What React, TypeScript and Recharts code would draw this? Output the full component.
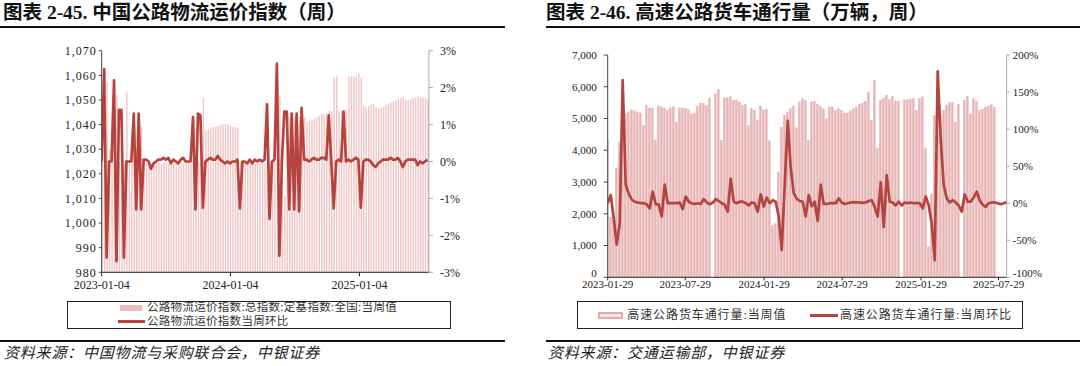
import React from 'react';
import { ComposedChart, Bar, Line, XAxis, YAxis } from 'recharts';

// ---------- Left chart: 中国公路物流运价指数（周） ----------
const leftIndex = [
  1026, 1063, 1057, 1030, 1025, 1024, 1052, 1025, 1026, 1024,
  1053, 1025, 1024, 1038, 1025, 1024, 1039, 1024.5, 1024.5, 1024,
  1024.5, 1024, 1024.5, 1024.5, 1024, 1024.5, 1024.5, 1024, 1024.5, 1024.5,
  1024, 1024.5, 1024.5, 1024, 1024.5, 1024.5, 1024, 1025, 1025, 1025,
  1025, 1051, 1037.5, 1038, 1038.5, 1039, 1039, 1039.5, 1040, 1040.3,
  1040, 1040, 1039.5, 1039, 1039, 1038.5, 1025, 1024.5, 1024.5, 1024,
  1024.5, 1024.5, 1024, 1024.5, 1024.5, 1024.5, 1024.5, 1025, 1025, 1025,
  1025, 1025, 1052, 1025, 1011, 1043, 1043, 1043, 1043, 1043,
  1043, 1043, 1043, 1041, 1041.5, 1042, 1042.5, 1043, 1043.5, 1044.5,
  1044, 1044.5, 1045.5, 1045.5, 1059, 1059.5, 1045.5, 1045.5, 1045, 1046,
  1059.5, 1059.5, 1059.5, 1059.5, 1060.5, 1059, 1047.5, 1047, 1047.5, 1048,
  1048.5, 1047, 1046.5, 1047, 1047, 1048, 1048.5, 1049, 1049.5, 1050,
  1050.5, 1051, 1051, 1050, 1050, 1050.5, 1051, 1051, 1051.5, 1051,
  1051, 1050.5, 1050,
];

const leftWoW = [
  0, 2.5, -2.6, 0, 0, 2.2, -2.7, 1.4, 1.4, -2.6,
  0, 0, 0, 1.3, -1.3, 1.3, -1.3, 0.05, 0.05, 0,
  -0.2, -0.05, 0, 0.05, 0.05, 0.1, 0.05, 0.1, -0.05, 0.05,
  0, -0.05, 0.05, 0.1, 0, 0, 0, 1.2, -1.3, 1.3,
  1.25, -1.25, 0, 0.05, 0.1, 0.05, 0.05, 0.15, 0.05, 0,
  -0.05, 0, -0.05, 0, 0, 0.05, -1.27, 0, 0, -0.05,
  0.05, -0.05, 0.05, 0, 0.05, 0, 0.05, 1.55, -1.55, 0,
  0.05, 2.65, -2.55, 0, 1.35, 1.35, -1.3, 1.3, -1.3, 1.3,
  -1.35, 1.45, 0.05, 0.05, 0, 0.05, 0.1, 0.05, 0.05, 0.1,
  0.1, 0.05, 1.25, 0, -1.27, 0, 0.05, 0, 1.35, 0,
  0.05, 0, 0.05, 0.1, 0.05, -1.25, 0, 0.05, 0.05, 0,
  -0.1, -0.15, -0.05, 0, 0.05, 0.05, 0.05, 0.1, 0.05, 0.05,
  0.1, 0, -0.15, 0, 0.05, 0.05, 0.05, 0.05, -0.1, 0,
  -0.05, 0, 0.05,
];

const leftTickDays = [0, 365, 731];
const leftTickLabels = ['2023-01-04', '2024-01-04', '2025-01-04'];
const leftIndexTicks = [980, 990, 1000, 1010, 1020, 1030, 1040, 1050, 1060, 1070];
const leftPctTicks = [-3, -2, -1, 0, 1, 2, 3];

// ---------- Right chart: 高速公路货车通行量（万辆，周） ----------
const rightVolume: (number | null)[] = [
  4350, 1900, 1900, 3450, 4270, 5100, 5150, 5215, 5280, 5250,
  5215, 5185, 4795, 5420, 5340, 5340, 4340, 5400, 5370, 5330,
  5265, 5350, 5380, 4900, 5340, 5340, 5320, 5290, 5160, 5180,
  5400, 5500, 5480, 5420, 5660, null, 5790, 5930, 4320, 5660,
  5660, 5700, 5580, 5600, 5530, 5420, 5460, 4790, 5320, 5265,
  4950, 5400, 5280, 5300, 4310, 1645, 1700, 3325, 4740, 5110,
  5215, 5320, 5400, 4720, 5530, 5635, 5580, 4320, 5530, 5550,
  5460, 5400, 5320, 5000, 5370, 5370, 5265, 5320, 5265, 5185,
  5185, 5250, 5320, 5370, 5455, 5500, 5550, 5845, 4950, 6212,
  4060, 5580, 5640, 5740, 5610, 5700, 5560, 5560, null, 5600,
  5600, 5620, 5640, 5260, 5640, 5690, 4060, 965, 2640, 5100,
  5110, 5110, 5270, 5430, 5510, 5510, 4890, 5460, null, 5580,
  5720, 5150, 5640, 5560, 5270, 5300, 5370, 5400, 5450, 5360,
  null, null, null, null,
];

const rightWoW = [
  0, 11, -20, -56, -28, 166, 25, 13, 5, 2,
  1, 0, 0, -1.5, -7, 15.5, -1.5, -1.5, -18, 25,
  0, 0, 0, 0, 1, -8, 9, 2, 0, -1,
  0, -1, 5.6, 1, -1.5, 0.5, 5.6, 3, 0, -2,
  -11.5, 33, 2, 0, 2, 2, 0, -3, 1, 0,
  -11.5, 12, -4.7, 7.5, 0, 4, 2, -18, -63, 24,
  111, 48, 14, 6, 3, 2, -18, 11, -4, 2,
  -24, 25, -1, -1, 0, 0, 0, 6.5, 1, -1,
  0, 1, 1.5, 1, 1, 0.5, 1, 3, 4, -5,
  -18, 28, -32, 38, 2, 1, -3, 2, -3, 1,
  0, 1, 0, 0, 0, -7, 9, -3, -27, -77,
  178, 87, 24.5, 6.5, 1, 4, 1, -3, -11.5, 12,
  2, 2, 8, 15.5, 4, -2, -5, 0, 1, 1,
  0, -1.5, 0, 1.5,
];

const rightTickDays = [0, 181, 365, 547, 731, 912];
const rightTickLabels = ['2023-01-29', '2023-07-29', '2024-01-29', '2024-07-29', '2025-01-29', '2025-07-29'];
const rightVolTicks = [0, 1000, 2000, 3000, 4000, 5000, 6000, 7000];
const rightPctTicks = [-100, -50, 0, 50, 100, 150, 200];

// ---------- build tables ----------
const leftData = leftIndex.map((v, i) => ({ day: i * 7, index: v, wow: leftWoW[i] }));
const rightData = rightVolume.map((v, i) => ({ day: i * 7, volume: v, wow: rightWoW[i] }));

const SERIF = "'Liberation Serif', 'Times New Roman', 'Noto Sans CJK SC', serif";
const CJK = "'Liberation Serif', 'Noto Sans CJK SC', sans-serif";
const LINE = '#b5443e';
const fmtComma = (v: number) => v.toLocaleString('en-US');
const fmtPct = (v: number) => `${v}%`;
const labelOf = (days: number[], labels: string[]) => (v: number) => {
  const k = days.indexOf(v);
  return k >= 0 ? labels[k] : '';
};

const tickStyle = { fontSize: 11, fill: '#222', fontFamily: SERIF };

// y tick whose lowest label is lifted a little (as in the reference)
const liftedTick = (fmt: (v: number) => string, lowest: number, lift: number) => (props: any) => {
  const { x, y, payload, textAnchor } = props;
  const dy = payload.value === lowest ? -lift : 0;
  return (
    <text x={x} y={y + dy} dy="0.355em" textAnchor={textAnchor} fontSize={11} fill="#222" fontFamily={SERIF}>
      {fmt(payload.value)}
    </text>
  );
};

const abs = (l: number, t: number): React.CSSProperties => ({ position: 'absolute', left: l, top: t });

export default function App() {
  return (
    <div style={{ position: 'absolute', left: 0, top: 0, width: 1080, height: 366, background: '#fff', overflow: 'hidden' }}>
      {/* titles */}
      <div style={{ ...abs(3, 0.5), fontFamily: CJK, fontWeight: 700, fontSize: 19.5, lineHeight: '24px', color: '#111', whiteSpace: 'nowrap' }}>
        图表 2-45. 中国公路物流运价指数（周）
      </div>
      <div style={{ ...abs(546, 0.5), fontFamily: CJK, fontWeight: 700, fontSize: 19.5, lineHeight: '24px', color: '#111', whiteSpace: 'nowrap' }}>
        图表 2-46. 高速公路货车通行量（万辆，周）
      </div>
      <div style={{ ...abs(0, 25.7), width: 505, height: 2, background: '#111' }} />
      <div style={{ ...abs(546, 25.7), width: 534, height: 2, background: '#111' }} />

      {/* left chart */}
      <div style={abs(0, 0)}>
        <ComposedChart width={540} height={300} data={leftData} margin={{ top: 50.7, right: 0, bottom: 0, left: 0 }}>
          <XAxis
            xAxisId="x"
            type="number"
            dataKey="day"
            domain={[0, 928]}
            ticks={leftTickDays}
            tickFormatter={labelOf(leftTickDays, leftTickLabels)}
            height={27.7}
            tickSize={4}
            tickMargin={4}
            stroke="#222"
            tick={{ ...tickStyle, fontSize: 12 }}
            interval={0}
            allowDataOverflow
          />
          <YAxis
            yAxisId="l"
            orientation="left"
            width={101.7}
            domain={[980, 1070]}
            ticks={leftIndexTicks}
            tickFormatter={fmtComma}
            tickSize={3}
            tickMargin={2}
            stroke="#444"
            tick={{ ...tickStyle, fontSize: 12, letterSpacing: 1 }}
            interval={0}
            allowDataOverflow
          />
          <YAxis
            yAxisId="r"
            orientation="right"
            width={111.1}
            domain={[-3, 3]}
            ticks={leftPctTicks}
            tickFormatter={fmtPct}
            tickSize={4}
            tickMargin={7}
            stroke="#aaa"
            tick={{ ...tickStyle, fontSize: 12 }}
            interval={0}
            allowDataOverflow
          />
          <Bar xAxisId="x" yAxisId="l" dataKey="index" fill="#f0c4c4" barSize={1.4} isAnimationActive={false} />
          <Line xAxisId="x" yAxisId="r" dataKey="wow" stroke={LINE} strokeWidth={2.7} dot={false} strokeLinejoin="round" isAnimationActive={false} />
        </ComposedChart>
      </div>

      {/* right chart */}
      <div style={abs(540, 0)}>
        <ComposedChart width={540} height={300} data={rightData} margin={{ top: 55, right: 0, bottom: 0, left: 0 }}>
          <XAxis
            xAxisId="x"
            type="number"
            dataKey="day"
            domain={[0, 931]}
            ticks={rightTickDays}
            tickFormatter={labelOf(rightTickDays, rightTickLabels)}
            height={22.7}
            tickSize={3}
            tickMargin={0}
            stroke="#222"
            tick={tickStyle}
            interval={0}
            allowDataOverflow
          />
          <YAxis
            yAxisId="l"
            orientation="left"
            width={67.7}
            domain={[0, 7000]}
            ticks={rightVolTicks}
            tickSize={4}
            tickMargin={7}
            stroke="#444"
            tick={liftedTick(fmtComma, 0, 4)}
            interval={0}
          />
          <YAxis
            yAxisId="r"
            orientation="right"
            width={73.3}
            domain={[-100, 200]}
            ticks={rightPctTicks}
            tickSize={3}
            tickMargin={3}
            stroke="#aaa"
            tick={liftedTick(fmtPct, -100, 4)}
            interval={0}
          />
          <Bar xAxisId="x" yAxisId="l" dataKey="volume" fill="#e7b5b5" barSize={2.4} isAnimationActive={false} />
          <Line xAxisId="x" yAxisId="r" dataKey="wow" stroke={LINE} strokeWidth={2.7} dot={false} strokeLinejoin="round" isAnimationActive={false} />
        </ComposedChart>
      </div>

      {/* left legend */}
      <div style={{ ...abs(66.7, 301), width: 384, height: 28, border: '1px solid #222', boxSizing: 'border-box' }} />
      <div style={{ ...abs(120, 305), width: 22, height: 6, background: '#eebcbc' }} />
      <div style={{ ...abs(147, 300), fontFamily: CJK, fontSize: 11.5, lineHeight: '15px', color: '#333', letterSpacing: 0.3, whiteSpace: 'nowrap' }}>
        公路物流运价指数:总指数:定基指数:全国:当周值
      </div>
      <div style={{ ...abs(118, 320.3), width: 27, height: 3, background: LINE }} />
      <div style={{ ...abs(147, 314), fontFamily: CJK, fontSize: 11.5, lineHeight: '15px', color: '#333', letterSpacing: 0.3, whiteSpace: 'nowrap' }}>
        公路物流运价指数当周环比
      </div>

      {/* right legend */}
      <div style={{ ...abs(576.7, 301), width: 446, height: 28.3, border: '1px solid #222', boxSizing: 'border-box' }} />
      <div style={{ ...abs(598.3, 311.5), width: 25, height: 7, border: '2px solid #e6aaaa', background: '#f8e2e2', boxSizing: 'border-box' }} />
      <div style={{ ...abs(627.3, 307), fontFamily: CJK, fontSize: 12, lineHeight: '16px', color: '#333', letterSpacing: 0.9, whiteSpace: 'nowrap' }}>
        高速公路货车通行量:当周值
      </div>
      <div style={{ ...abs(810, 313.5), width: 28.3, height: 3, background: LINE }} />
      <div style={{ ...abs(840, 307), fontFamily: CJK, fontSize: 12, lineHeight: '16px', color: '#333', letterSpacing: 0.9, whiteSpace: 'nowrap' }}>
        高速公路货车通行量:当周环比
      </div>

      {/* source lines */}
      <div style={{ ...abs(0, 340), width: 505, height: 2, background: '#111' }} />
      <div style={{ ...abs(546, 340), width: 534, height: 2, background: '#111' }} />
      <div style={{ ...abs(4, 343), fontFamily: CJK, fontStyle: 'italic', fontSize: 15, lineHeight: '20px', color: '#222', letterSpacing: 0.8, whiteSpace: 'nowrap' }}>
        资料来源：中国物流与采购联合会，中银证券
      </div>
      <div style={{ ...abs(548, 343), fontFamily: CJK, fontStyle: 'italic', fontSize: 15, lineHeight: '20px', color: '#222', letterSpacing: 0.8, whiteSpace: 'nowrap' }}>
        资料来源：交通运输部，中银证券
      </div>
    </div>
  );
}
